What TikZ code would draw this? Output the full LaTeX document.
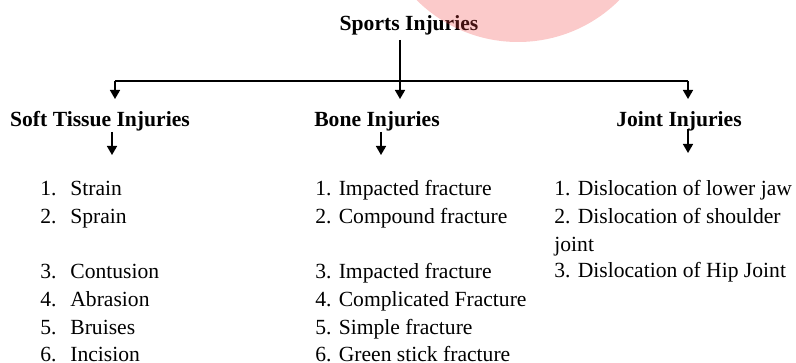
\documentclass[tikz,border=0pt]{standalone}
\usepackage{fontspec}
\setmainfont{Liberation Serif}
\usepackage{xcolor}
\usepackage{tikz}
\usetikzlibrary{arrows.meta, positioning}
\definecolor{injpink}{HTML}{F04040}

\begin{document}
\begin{tikzpicture}[x=0.5pt, y=-0.5pt,
    every node/.style={inner sep=0pt, font=\fontsize{10.8}{13}\selectfont},
    head/.style={anchor=base, font=\fontsize{10.8}{13}\selectfont\bfseries},
    item/.style={anchor=base west},
    link/.style={line width=0.75pt},
    down/.style={line width=0.75pt, -{Triangle[length=4.5pt, width=5pt]}},
]
    \useasboundingbox (0,0) rectangle (796,363);

    % Title and bus
    \node[head] (title) at (409,31) {Sports Injuries};
    \coordinate (top) at (400,40);
    \coordinate (bus) at (400,81);
    \coordinate (busl) at (115,81);
    \coordinate (busr) at (688,81);
    \coordinate (tipl) at (115,99);
    \coordinate (tipm) at (400,99);
    \coordinate (tipr) at (688,99);
    \draw[link] (top) -- (bus);
    \draw[link] (busl) -- (busr);
    \draw[down] (busl) -- (tipl);
    \draw[down] (bus) -- (tipm);
    \draw[down] (busr) -- (tipr);

    % Headings
    \node[head] (soft) at (100,127) {Soft Tissue Injuries};
    \node[head] (bone) at (377,127) {Bone Injuries};
    \node[head] (joint) at (679,127) {Joint Injuries};
    \coordinate (softa) at (112,132);
    \coordinate (softb) at (112,155);
    \coordinate (bonea) at (381,132);
    \coordinate (boneb) at (381,155);
    \coordinate (jointa) at (688,129);
    \coordinate (jointb) at (688,153);
    \draw[down] (softa) -- (softb);
    \draw[down] (bonea) -- (boneb);
    \draw[down] (jointa) -- (jointb);

    % Soft tissue list
    \node[item] (s1) at (40,196) {\makebox[15pt][l]{1.}Strain};
    \node[item] (s2) at (40,223) {\makebox[15pt][l]{2.}Sprain};
    \node[item] (s3) at (40,278) {\makebox[15pt][l]{3.}Contusion};
    \node[item] (s4) at (40,306) {\makebox[15pt][l]{4.}Abrasion};
    \node[item] (s5) at (40,334) {\makebox[15pt][l]{5.}Bruises};
    \node[item] (s6) at (40,361) {\makebox[15pt][l]{6.}Incision};

    % Bone list
    \node[item] (b1) at (315,196) {1. Impacted fracture};
    \node[item] (b2) at (315,223) {2. Compound fracture};
    \node[item] (b3) at (315,278) {3. Impacted fracture};
    \node[item] (b4) at (315,306) {4. Complicated Fracture};
    \node[item] (b5) at (315,334) {5. Simple fracture};
    \node[item] (b6) at (315,361) {6. Green stick fracture};

    % Joint list
    \node[item] (j1) at (554,196) {1. Dislocation of lower jaw};
    \node[item] (j2) at (554,223) {2. Dislocation of shoulder};
    \node[item] (j2b) at (554,251) {joint};
    \node[item] (j3) at (554,277) {3. Dislocation of Hip Joint};

    % Pink disc
    \begin{scope}
        \clip (0,0) rectangle (796,363);
        \fill[injpink, fill opacity=0.28] (518,-101.5) circle[radius=143.5];
    \end{scope}
\end{tikzpicture}
\end{document}
